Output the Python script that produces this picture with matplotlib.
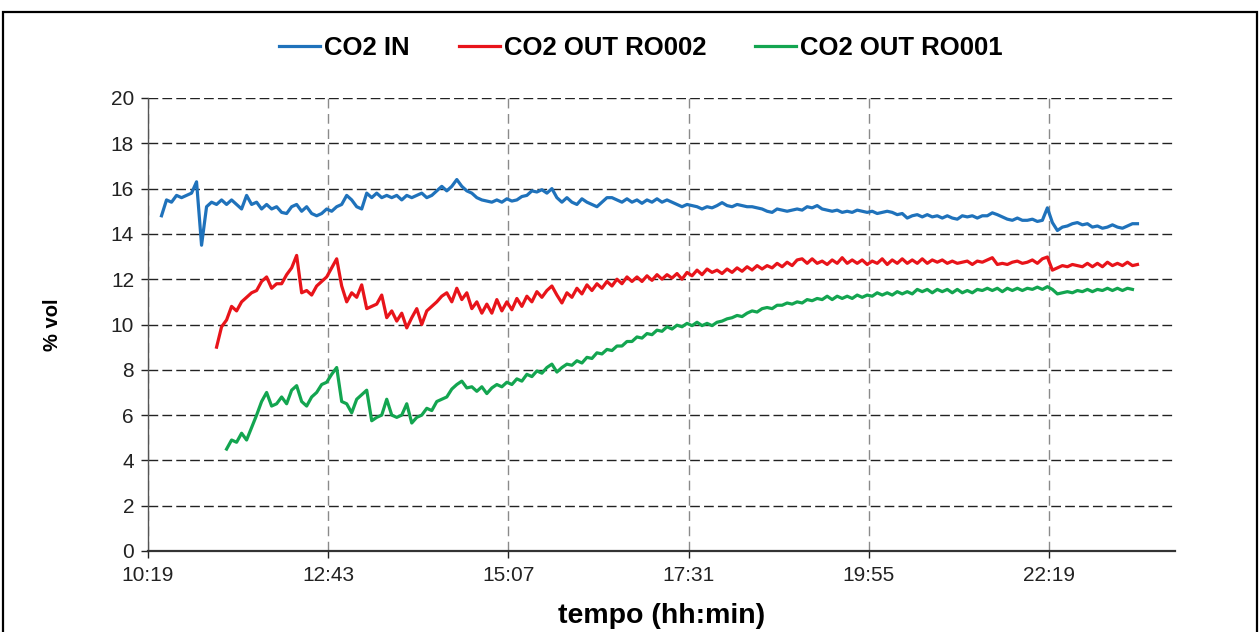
import numpy as np
import matplotlib
matplotlib.use('Agg')
import matplotlib.pyplot as plt
from matplotlib.ticker import FuncFormatter
from matplotlib.patches import Rectangle

# ── Data (values every 4 min, start time in minutes from midnight) ──
STEP = 4
blue_start = 10 * 60 + 30
red_start = 11 * 60 + 14
green_start = 11 * 60 + 22

co2_in = [
    14.8, 15.5, 15.4, 15.7, 15.6, 15.7, 15.8, 16.3, 13.5, 15.2,
    15.4, 15.3, 15.5, 15.3, 15.5, 15.3, 15.1, 15.7, 15.3, 15.4,
    15.1, 15.3, 15.1, 15.2, 14.95, 14.9, 15.2, 15.3, 15.0, 15.2,
    14.9, 14.8, 14.9, 15.1, 15.0, 15.2, 15.3, 15.7, 15.5, 15.2,
    15.1, 15.8, 15.6, 15.8, 15.6, 15.7, 15.6, 15.7, 15.5, 15.7,
    15.6, 15.7, 15.8, 15.6, 15.7, 15.9, 16.1, 15.9, 16.1, 16.4,
    16.1, 15.9, 15.8, 15.6, 15.5, 15.45, 15.4, 15.5, 15.4, 15.55,
    15.45, 15.5, 15.65, 15.7, 15.9, 15.85, 15.95, 15.8, 16.0, 15.6,
    15.4, 15.6, 15.4, 15.3, 15.55, 15.4, 15.3, 15.2, 15.4, 15.6,
    15.6, 15.5, 15.4, 15.55, 15.4, 15.5, 15.35, 15.5, 15.4, 15.55,
    15.4, 15.5, 15.4, 15.3, 15.2, 15.3, 15.25, 15.2, 15.1, 15.2,
    15.15, 15.25, 15.38, 15.25, 15.2, 15.3, 15.25, 15.2, 15.2, 15.15,
    15.1, 15.0, 14.95, 15.1, 15.05, 15.0, 15.05, 15.1, 15.05, 15.2,
    15.15, 15.25, 15.1, 15.05, 15.0, 15.05, 14.95, 15.0, 14.95, 15.05,
    15.0, 14.95, 15.0, 14.9, 14.95, 15.0, 14.95, 14.85, 14.9, 14.7,
    14.8, 14.85, 14.75, 14.85, 14.75, 14.8, 14.7, 14.8, 14.7, 14.65,
    14.8, 14.75, 14.8, 14.7, 14.8, 14.8, 14.93, 14.85, 14.75, 14.65,
    14.6, 14.7, 14.6, 14.6, 14.65, 14.55, 14.6, 15.15, 14.5, 14.15,
    14.3, 14.35, 14.45, 14.5, 14.4, 14.45, 14.3, 14.35, 14.25, 14.3,
    14.4, 14.3, 14.25, 14.35, 14.45, 14.45,
]

co2_out_ro002 = [
    9.0, 9.9, 10.2, 10.8, 10.6, 11.0, 11.2, 11.4, 11.5, 11.9,
    12.1, 11.6, 11.8, 11.8, 12.2, 12.5, 13.05, 11.4, 11.5, 11.3,
    11.7, 11.9, 12.1, 12.5, 12.9, 11.7, 11.0, 11.4, 11.2, 11.75,
    10.7, 10.8, 10.9, 11.3, 10.3, 10.6, 10.15, 10.5, 9.85, 10.3,
    10.7, 10.0, 10.6, 10.8, 11.0, 11.25, 11.4, 11.0, 11.6, 11.1,
    11.4, 10.7, 11.0, 10.5, 10.9, 10.5, 11.1, 10.6, 11.0, 10.65,
    11.15, 10.8, 11.25, 11.0, 11.45, 11.2, 11.5, 11.7, 11.3, 10.95,
    11.4, 11.2, 11.6, 11.35, 11.75, 11.5, 11.8, 11.6, 11.9, 11.7,
    12.0, 11.8, 12.1, 11.9, 12.1, 11.9, 12.15, 11.95, 12.2, 12.0,
    12.2, 12.05, 12.25, 12.0, 12.3, 12.15, 12.4, 12.2, 12.45, 12.3,
    12.4, 12.25, 12.45, 12.3, 12.5, 12.35, 12.55, 12.4, 12.6, 12.45,
    12.6, 12.5, 12.7, 12.55, 12.75, 12.6, 12.85, 12.9, 12.7, 12.9,
    12.7, 12.8, 12.65, 12.85, 12.7, 12.95, 12.7, 12.85, 12.7, 12.85,
    12.65, 12.8, 12.7, 12.9, 12.65, 12.85, 12.7, 12.9, 12.7, 12.85,
    12.7, 12.9, 12.7, 12.85, 12.75, 12.85, 12.7, 12.8, 12.7, 12.75,
    12.8, 12.65, 12.8, 12.75, 12.85, 12.95, 12.65, 12.7, 12.65, 12.75,
    12.8, 12.7, 12.75, 12.85, 12.7, 12.9, 12.98, 12.4, 12.5, 12.6,
    12.55, 12.65, 12.6, 12.55, 12.7, 12.55, 12.7, 12.55, 12.75, 12.6,
    12.7, 12.6, 12.75, 12.6, 12.65,
]

co2_out_ro001 = [
    4.5, 4.9, 4.8, 5.2, 4.9, 5.45, 6.0, 6.6, 7.0, 6.4,
    6.5, 6.8, 6.5, 7.1, 7.3, 6.6, 6.4, 6.8, 7.0, 7.35,
    7.45, 7.8, 8.1, 6.6, 6.5, 6.1, 6.7, 6.9, 7.1, 5.75,
    5.9, 6.0, 6.7, 6.0, 5.9, 6.0, 6.5, 5.65, 5.9, 6.0,
    6.3, 6.2, 6.6, 6.7, 6.8, 7.15, 7.35, 7.5, 7.2, 7.25,
    7.05, 7.25, 6.95, 7.2, 7.35, 7.25, 7.45, 7.35, 7.6, 7.5,
    7.8, 7.7, 7.95, 7.85, 8.1, 8.25, 7.9, 8.1, 8.25, 8.2,
    8.4, 8.3, 8.55, 8.5, 8.75, 8.7, 8.9, 8.85, 9.05, 9.05,
    9.25, 9.25, 9.45, 9.4, 9.6, 9.55, 9.75, 9.7, 9.9, 9.8,
    9.97, 9.9, 10.05, 9.95, 10.1, 9.95, 10.05, 9.95, 10.1, 10.15,
    10.25, 10.3, 10.4, 10.35, 10.5, 10.6, 10.55, 10.7, 10.75, 10.7,
    10.85, 10.85, 10.95, 10.9, 11.0, 10.95, 11.1, 11.05, 11.15, 11.1,
    11.25, 11.1, 11.25, 11.15, 11.25, 11.15, 11.3, 11.2, 11.3, 11.25,
    11.4, 11.3, 11.4, 11.3, 11.45, 11.35, 11.45, 11.35, 11.55, 11.45,
    11.55, 11.4, 11.55, 11.45, 11.55, 11.4, 11.55, 11.4, 11.5, 11.4,
    11.55, 11.5, 11.6, 11.5, 11.6, 11.45, 11.6, 11.5, 11.6, 11.5,
    11.6, 11.55, 11.65, 11.55, 11.67, 11.55, 11.35, 11.4, 11.45, 11.4,
    11.5, 11.45, 11.55, 11.45, 11.55, 11.5, 11.6, 11.5, 11.6, 11.5,
    11.6, 11.55,
]

labels = ['CO2 IN', 'CO2 OUT RO002', 'CO2 OUT RO001']
colors = ['#1f72bb', '#e8141a', '#13a550']

# x ticks as fraction of a day (Excel-style time axis)
x_min, x_max = 0.43, 1.0
x_ticks = [0.43, 0.53, 0.63, 0.73, 0.83, 0.93]
y_ticks = list(range(0, 21, 2))


def day_frac(start, vals):
    return (start + STEP * np.arange(len(vals))) / 1440.0


def hhmm(x, pos):
    m = round(x * 1440, 4)
    return f"{int(m // 60)}:{int(m % 60):02d}"


plt.rcParams['font.family'] = ['Liberation Sans', 'DejaVu Sans']

fig = plt.figure(figsize=(12.6, 6.32), dpi=100)
ax = fig.add_axes([148 / 1260, 1 - 551 / 632, (1175 - 148) / 1260, (551 - 98) / 632])

series = [(blue_start, co2_in), (red_start, co2_out_ro002), (green_start, co2_out_ro001)]
for (start, vals), lab, col in zip(series, labels, colors):
    ax.plot(day_frac(start, vals), vals, color=col, lw=2.3, label=lab,
            solid_joinstyle='round', zorder=3)

ax.set_xlim(x_min, x_max)
ax.set_ylim(0, 20)
ax.set_xticks(x_ticks)
ax.set_yticks(y_ticks)
ax.xaxis.set_major_formatter(FuncFormatter(hhmm))
ax.tick_params(axis='both', labelsize=15, direction='out', length=5, width=1, colors='#222222')
ax.tick_params(axis='x', pad=6)
ax.tick_params(axis='y', pad=5)

ax.grid(axis='y', color='#222222', linestyle=(0, (7, 3)), lw=1.0, zorder=1)
ax.grid(axis='x', color='#8a8a8a', linestyle=(0, (7, 4)), lw=1.0, zorder=1)

for s in ['top', 'right']:
    ax.spines[s].set_visible(False)
ax.spines['left'].set_color('#555555')
ax.spines['left'].set_linewidth(1.0)
ax.spines['bottom'].set_color('#333333')
ax.spines['bottom'].set_linewidth(1.6)

ax.set_ylabel('% vol', fontsize=14.5, fontweight='bold', labelpad=35)
ax.set_xlabel('tempo (hh:min)', fontsize=20.5, fontweight='bold', labelpad=13)

fig.legend(loc='center', bbox_to_anchor=(641 / 1260, 1 - 48 / 632), ncol=3,
           frameon=False, prop={'size': 18.5, 'weight': 'bold'},
           handlelength=1.6, handletextpad=0.16, columnspacing=1.9)

# outer chart border (bottom edge is cut off in the original)
fig.patches.append(Rectangle((3 / 1260, -0.1), 1254 / 1260, 1.1 - 12 / 632,
                             transform=fig.transFigure, fill=False,
                             ec='black', lw=1.6))

fig.savefig('out.png', dpi=100)
